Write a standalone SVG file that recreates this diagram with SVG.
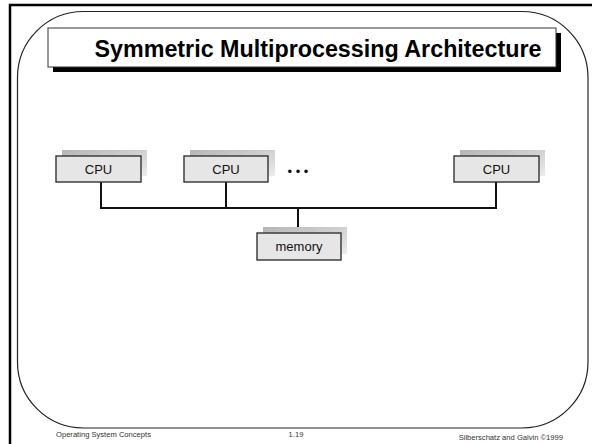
<svg xmlns="http://www.w3.org/2000/svg" width="592" height="444" viewBox="0 0 592 444">
<style>
.frame{fill:none;stroke:#000;stroke-width:2.5}
.page{fill:none;stroke:#222;stroke-width:1.2}
.box{fill:#e6e6e6;stroke:#333;stroke-width:1.4}
.shadow{fill:url(#sg)}
.lbl{font-family:"Liberation Sans",Arial,sans-serif;font-size:13px;fill:#111;text-anchor:middle}
.bus{fill:none;stroke:#111;stroke-width:2}
.foot{font-family:"Liberation Sans",Arial,sans-serif;font-size:7.6px;fill:#333}
.title{font-family:"Liberation Sans",Arial,sans-serif;font-size:23.3px;font-weight:bold;fill:#000;text-anchor:middle}
</style>
<defs>
<linearGradient id="sg" x1="0" y1="0" x2="1" y2="1">
<stop offset="0" stop-color="#b5b5b5"/>
<stop offset="1" stop-color="#ececec"/>
</linearGradient>
</defs>
<rect width="592" height="444" fill="#fff"/>
<path class="frame" d="M10,444 V5 H592"/>
<rect class="page" x="17.5" y="11.5" width="570.5" height="416.5" rx="66" ry="66"/>
<g id="title">
<rect x="53" y="33" width="508" height="39" fill="#000"/>
<rect x="48" y="28" width="508" height="39" fill="#fff" stroke="#333" stroke-width="1"/>
<text class="title" x="318" y="57">Symmetric Multiprocessing Architecture</text>
</g>
<g id="connectors">
<path class="bus" d="M101,182 V208 H496 V182"/>
<path class="bus" d="M226,182 V208"/>
<path class="bus" d="M298,208 V233"/>
</g>
<g id="cpu1">
<rect class="shadow" x="62" y="150" width="85" height="26"/>
<rect class="box" x="56" y="156" width="85" height="26"/>
<text class="lbl" x="98.5" y="174">CPU</text>
</g>
<g id="cpu2">
<rect class="shadow" x="190" y="150" width="85" height="26"/>
<rect class="box" x="184" y="156" width="84" height="26"/>
<text class="lbl" x="226" y="174">CPU</text>
</g>
<g id="dots">
<text x="298" y="176" font-family="Liberation Sans,Arial,sans-serif" font-size="13" text-anchor="middle" fill="#111">• • •</text>
</g>
<g id="cpu3">
<rect class="shadow" x="460" y="150" width="85" height="26"/>
<rect class="box" x="454" y="156" width="85" height="26"/>
<text class="lbl" x="496.5" y="174">CPU</text>
</g>
<g id="memory">
<rect class="shadow" x="263" y="227" width="84" height="27"/>
<rect class="box" x="257" y="233" width="84" height="27"/>
<text class="lbl" x="299" y="251">memory</text>
</g>
<g id="footer">
<text class="foot" x="56" y="437">Operating System Concepts</text>
<text class="foot" x="296" y="437" text-anchor="middle">1.19</text>
<text class="foot" x="563" y="440" text-anchor="end">Silberschatz and Galvin ©1999</text>
</g>
</svg>
